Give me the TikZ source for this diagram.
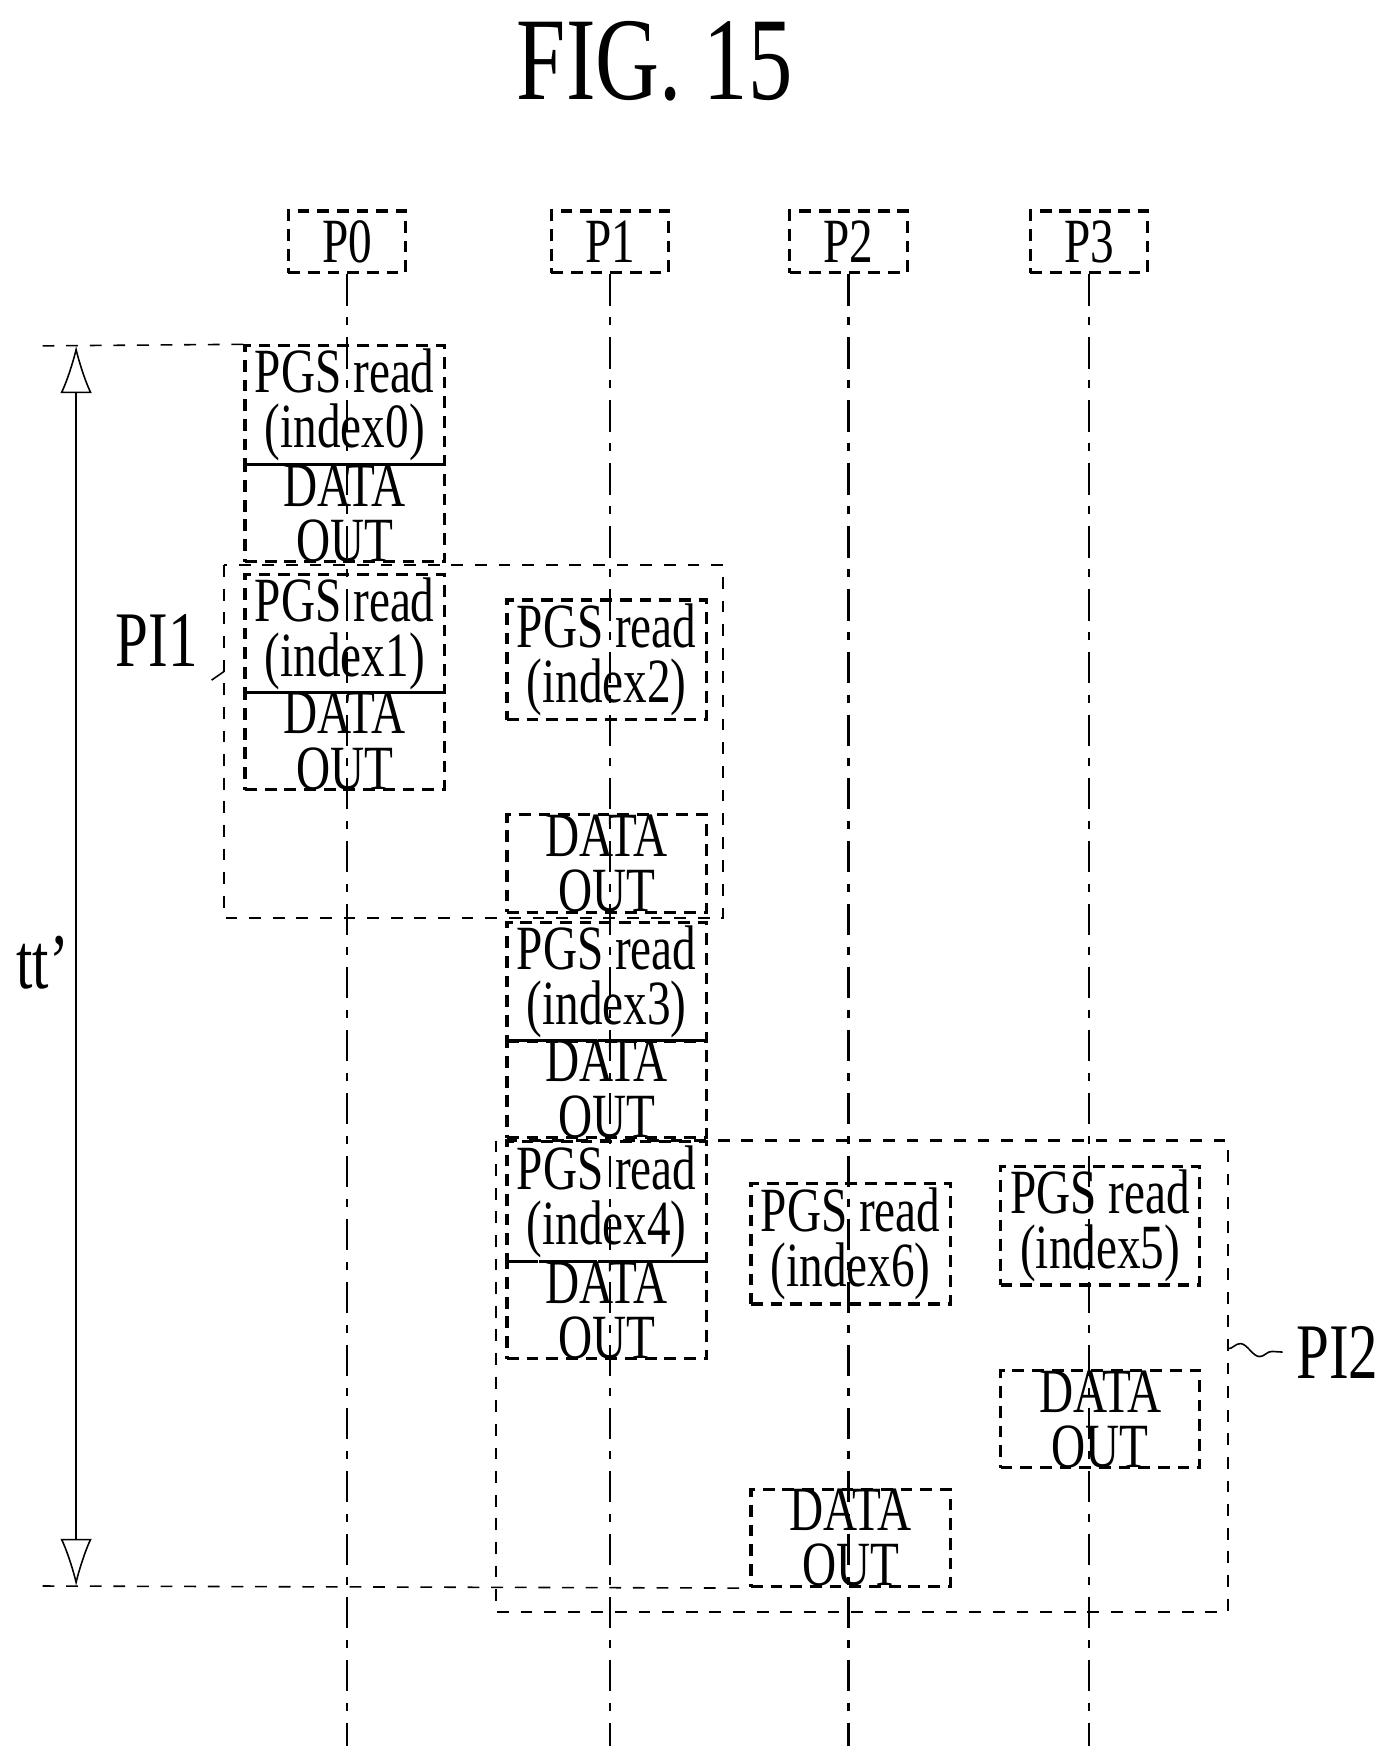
\documentclass[tikz,border=0pt]{standalone}
\usepackage{fontspec}
\setmainfont{Liberation Serif}[FakeStretch=0.75]
\usetikzlibrary{arrows.meta,decorations.pathmorphing}
\begin{document}
\begin{tikzpicture}[x=0.01cm,y=-0.01cm,
    box/.style={draw, densely dashed, line width=0.8pt, inner sep=0pt, align=center,
      font=\fontsize{16}{14}\selectfont},
    grp/.style={draw, dashed, line width=0.6pt},
    lead/.style={decorate, decoration={snake, amplitude=1.5pt, segment length=10pt}},
    life/.style={dash pattern=on 8pt off 3pt on 2pt off 3pt, line width=0.6pt}]
    \useasboundingbox (0,0) rectangle (1240,1568);

    \node[font=\fontsize{30}{30}\selectfont] (title) at (585,55) {FIG. 15};

    % header boxes and lifelines
    \foreach \n/\x in {0/310,1/545,2/758,3/973} {
        \node[box, minimum width=1.05cm, minimum height=0.55cm] (P\n) at (\x,216) {P\n};
        \coordinate (E\n) at (\x,1560);
        \draw[life] (P\n.south) -- (E\n);
    }

    % \blk{name}{x}{top}{bottom}{text}
    \newcommand\blk[5]{\node[box, minimum width=1.78cm, minimum height={(#4-#3)*0.01cm}]
        (#1) at (#2,{(#3+#4)/2}) {#5};}
    \blk{r0}{308}{309}{415}{PGS read\\(index0)}
    \blk{d0}{308}{415}{502}{DATA\\OUT}
    \blk{r1}{308}{513}{619}{PGS read\\(index1)}
    \blk{d1}{308}{619}{705}{DATA\\OUT}
    \blk{r2}{542}{536}{643}{PGS read\\(index2)}
    \blk{d2}{542}{728}{815}{DATA\\OUT}
    \blk{r3}{542}{824}{930}{PGS read\\(index3)}
    \blk{d3}{542}{930}{1016}{DATA\\OUT}
    \blk{r4}{542}{1020}{1127}{PGS read\\(index4)}
    \blk{d4}{542}{1127}{1214}{DATA\\OUT}
    \blk{r6}{760}{1057}{1165}{PGS read\\(index6)}
    \blk{d6}{760}{1331}{1417}{DATA\\OUT}
    \blk{r5}{983}{1042}{1148}{PGS read\\(index5)}
    \blk{d5}{983}{1225}{1311}{DATA\\OUT}

    % groups
    \draw[grp] (200,505) rectangle (646,820);
    \draw[grp] (443,1019) rectangle (1097,1440);
    \node[font=\fontsize{20}{20}\selectfont] (PI1) at (140,572) {PI1};
    \coordinate (PI1e) at (200,600);
    \draw[lead] (PI1.south east) -- (PI1e);
    \node[font=\fontsize{20}{20}\selectfont] (PI2) at (1195,1208) {PI2};
    \coordinate (PI2e) at (1097,1205);
    \draw[lead] (PI2e) -- (PI2.west);

    % time span
    \coordinate (t0) at (38,309);
    \coordinate (t1) at (38,1417);
    \coordinate (a0) at (68,309);
    \coordinate (a1) at (68,1417);
    \draw[dashed] (t0) -- (r0.north west);
    \draw[dashed] (t1) -- (d6.south west);
    \draw[{Latex[open,length=12pt,width=8pt]}-{Latex[open,length=12pt,width=8pt]}] (a0) -- (a1);
    \node[font=\fontsize{20}{20}\selectfont] (tt) at (38,860) {tt'};
\end{tikzpicture}
\end{document}
